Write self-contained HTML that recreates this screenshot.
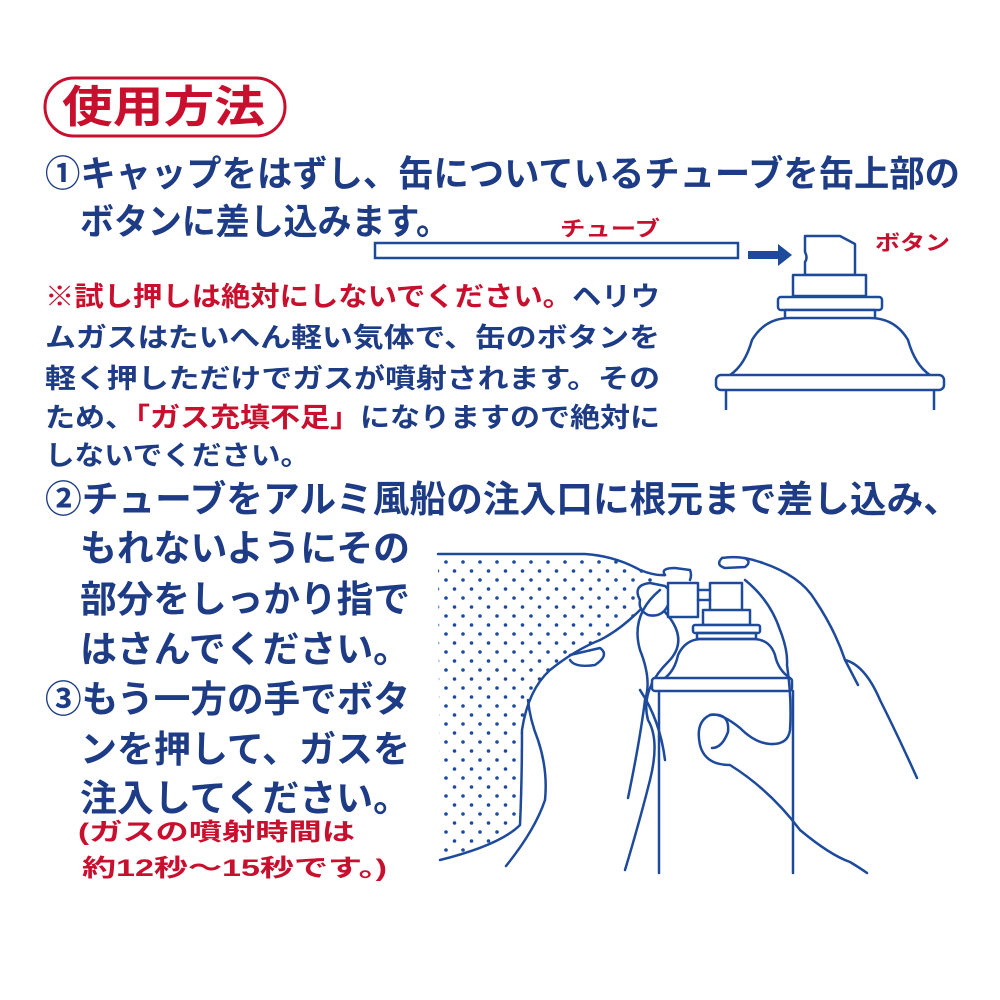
<!DOCTYPE html>
<html><head><meta charset="utf-8"><style>
html,body{margin:0;padding:0;background:#fff;}
svg{display:block}
text{font-family:"Liberation Sans","Noto Sans CJK JP",sans-serif;font-weight:bold;}
</style></head><body>
<svg width="1000" height="1000" viewBox="0 0 1000 1000" xmlns="http://www.w3.org/2000/svg">
<defs>
<pattern id="dots" width="17" height="18" patternUnits="userSpaceOnUse">
<circle cx="4" cy="4" r="1.8" fill="#1e4a9c"/><circle cx="12.5" cy="13" r="1.8" fill="#1e4a9c"/>
</pattern>
</defs>
<rect x="45" y="78" width="240" height="58" rx="29" fill="#fff" stroke="#c8102e" stroke-width="3"/>
<text x="62" y="122" font-size="44" fill="#c8102e" textLength="203" lengthAdjust="spacingAndGlyphs">使用方法</text>

<g fill="#1d3c85">
<text x="45" y="186" font-size="36" textLength="915" lengthAdjust="spacingAndGlyphs">①キャップをはずし、缶についているチューブを缶上部の</text>
<text x="80" y="234" font-size="36" textLength="370" lengthAdjust="spacingAndGlyphs">ボタンに差し込みます。</text>
</g>
<text x="560" y="236" font-size="21" fill="#c8102e" textLength="100" lengthAdjust="spacingAndGlyphs">チューブ</text>
<text x="875" y="250" font-size="21" fill="#c8102e" textLength="75" lengthAdjust="spacingAndGlyphs">ボタン</text>

<g font-size="27">
<text x="45" y="306" fill="#c8102e" textLength="615" lengthAdjust="spacingAndGlyphs">※試し押しは絶対にしないでください。<tspan fill="#1d3c85">ヘリウ</tspan></text>
<text x="45" y="347" fill="#1d3c85" textLength="615" lengthAdjust="spacingAndGlyphs">ムガスはたいへん軽い気体で、缶のボタンを</text>
<text x="45" y="388" fill="#1d3c85" textLength="615" lengthAdjust="spacingAndGlyphs">軽く押しただけでガスが噴射されます。その</text>
<text x="45" y="427" fill="#1d3c85" textLength="615" lengthAdjust="spacingAndGlyphs">ため、<tspan fill="#c8102e">「ガス充填不足」</tspan>になりますので絶対に</text>
<text x="45" y="465" fill="#1d3c85" textLength="265" lengthAdjust="spacingAndGlyphs">しないでください。</text>
</g>

<g fill="#1d3c85" font-size="37">
<text x="45" y="512" textLength="915" lengthAdjust="spacingAndGlyphs">②チューブをアルミ風船の注入口に根元まで差し込み、</text>
<text x="80" y="561" textLength="330" lengthAdjust="spacingAndGlyphs">もれないようにその</text>
<text x="80" y="612" textLength="330" lengthAdjust="spacingAndGlyphs">部分をしっかり指で</text>
<text x="80" y="662" textLength="330" lengthAdjust="spacingAndGlyphs">はさんでください。</text>
<text x="45" y="712" textLength="365" lengthAdjust="spacingAndGlyphs">③もう一方の手でボタ</text>
<text x="80" y="762" textLength="330" lengthAdjust="spacingAndGlyphs">ンを押して、ガスを</text>
<text x="80" y="811" textLength="330" lengthAdjust="spacingAndGlyphs">注入してください。</text>
</g>
<g fill="#c8102e" font-size="24">
<text x="78" y="840" textLength="277" lengthAdjust="spacingAndGlyphs">(ガスの噴射時間は</text>
<text x="82" y="876" textLength="305" lengthAdjust="spacingAndGlyphs">約12秒～15秒です。)</text>
</g>

<g stroke="#1e4a9c" stroke-width="2.5" fill="none">
<rect x="375" y="243" width="363" height="15" fill="#fff"/>
</g>
<path d="M748 251 H778 V244 L792 255 L778 266 V259 H748 Z" fill="#1e4a9c"/>

<g stroke="#1e4a9c" stroke-width="2.5" fill="#fff" stroke-linejoin="round">
<path d="M805 275 V262 Q808 258 805 252 V236 H840 L855 244 V275 Z"/>
<rect x="793" y="275" width="73" height="21"/>
<rect x="778" y="297" width="104" height="13" rx="3"/>
<rect x="785" y="310" width="90" height="9"/>
<path d="M730 375 Q745 365 752 340 Q765 318 790 318 H870 Q895 318 908 340 Q915 365 930 375"/>
<rect x="716" y="375" width="228" height="15" rx="5"/>
<path d="M726 390 V410 M934 390 V410" fill="none"/>
</g>

<path d="M438 554 H585 Q620 556 645 570 L660 578 Q645 590 640 610 Q620 630 600 640 Q570 655 545 675 Q525 700 522 740 Q522 790 520 828 Q480 852 440 858 Z" fill="url(#dots)"/>
<g stroke="#1e4a9c" stroke-width="2.5" fill="none" stroke-linecap="round" stroke-linejoin="round">
<path d="M438 554 H585 Q615 556 640 570 Q655 576 665 575"/>
<path d="M440 860 Q500 845 520 825 Q522 780 522 730 Q528 690 550 670 Q575 650 600 640 Q620 630 640 610"/>
<path d="M506 866 Q535 830 545 800 Q548 770 538 740 Q530 720 528 700"/>
<path d="M570 655 L600 648 Q610 655 595 665 Q575 668 570 660"/>
<path d="M665 575 Q660 568 675 568 L690 570 Q692 575 690 580"/>
<path d="M640 600 Q632 585 650 583 L665 586 Q673 592 668 605 Q662 618 648 615 Q638 610 640 600 Z" fill="#fff"/>
<path d="M660 590 Q630 615 640 650 Q652 680 645 700 Q640 740 628 798"/>
<path d="M665 612 Q690 640 668 662 Q640 690 648 720 Q660 740 650 780 Q640 820 625 870"/>
<path d="M640 690 Q660 720 665 760"/>
<rect x="668" y="583" width="30" height="34" fill="#fff"/>
<path d="M698 590 H710 M698 600 H710"/>
<path d="M710 610 V583 H742 V610"/>
<rect x="703" y="610" width="47" height="15" fill="#fff"/>
<rect x="693" y="625" width="67" height="8" rx="2" fill="#fff"/>
<rect x="697" y="633" width="59" height="6"/>
<path d="M665 678 Q675 670 678 655 Q685 640 700 639 H755 Q770 640 775 655 Q778 670 790 678"/>
<rect x="652" y="678" width="140" height="13" rx="3" fill="#fff"/>
<path d="M659 691 V873 M793 691 V873"/>
<path d="M722 558 Q740 555 760 562 Q800 575 815 600 Q835 630 845 660 Q865 665 880 700 Q900 740 917 778"/>
<path d="M722 558 Q715 565 725 568 L745 567 Q752 562 745 558"/>
<path d="M745 580 Q770 600 780 630 Q788 650 787 665 Q792 700 790 730 Q788 745 770 744 Q755 743 740 728 Q720 712 710 715 Q695 722 700 745 Q705 765 730 765 Q770 790 800 830 Q830 855 850 862 Q860 868 867 873"/>
<path d="M845 660 L858 685"/>
<path d="M710 715 Q730 712 728 732 Q722 748 712 748"/>
</g>
</svg>
</body></html>
